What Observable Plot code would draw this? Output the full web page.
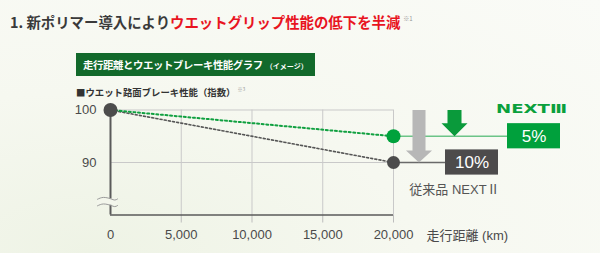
<!DOCTYPE html>
<html>
<head>
<meta charset="utf-8">
<script src="https://cdn.jsdelivr.net/npm/d3@7"></script>
<script src="https://cdn.jsdelivr.net/npm/@observablehq/plot@0.6"></script>
<style>
  html, body { margin: 0; padding: 0; }
  body { width: 600px; height: 253px; overflow: hidden;
    background: radial-gradient(ellipse at 15% 100%, #eef3e5 0%, #f6f8f0 45%, #fafbf7 100%); }
  #wrap { position: relative; width: 600px; height: 253px; font-family: "Noto Sans CJK JP", sans-serif; }
  #title { position: absolute; left: 10px; top: 9px; font-size: 14.4px; font-weight: bold; color: #3a3a3a; line-height: 20px; white-space: nowrap; }
  #title .red { color: #e8141f; }
  #title sup { font-size: 6px; color: #999; font-weight: normal; vertical-align: 7px; margin-left: 3px; }
  #banner { position: absolute; left: 76px; top: 53px; width: 239px; height: 23px; background: #12692b; color: #fff; font-weight: bold; font-size: 10.4px; line-height: 23px; padding-left: 7px; box-sizing: border-box; white-space: nowrap; letter-spacing: -0.4px; }
  #banner small { font-size: 7px; letter-spacing: 0; margin-left: 3px; }
  #sub { position: absolute; left: 76px; top: 81px; font-size: 9.4px; font-weight: bold; color: #333; line-height: 16px; white-space: nowrap; }
  #sub sup { font-size: 5px; color: #999; font-weight: normal; vertical-align: 5px; margin-left: 2px; }
  #chart { position: absolute; left: 0; top: 0; }
</style>
</head>
<body>
<div id="wrap">
  <div id="chart"></div>
  <div id="title">1. 新ポリマー導入により<span class="red">ウエットグリップ性能の低下を半減</span><sup>※1</sup></div>
  <div id="banner">走行距離とウエットブレーキ性能グラフ<small>（イメージ）</small></div>
  <div id="sub">■ウエット路面ブレーキ性能（指数）<sup>※3</sup></div>
</div>
<script>
// ---- data ----
const distance = [0, 20000];           // km
const next3 = [100, 95];               // NEXT III index
const next2 = [100, 90];               // 従来品 NEXT II index
const xTicks = [0, 5000, 10000, 15000, 20000];
const yTicks = [90, 100];
const reductionLabels = ["5%", "10%"];
const seriesNames = ["NEXTⅢ", "従来品 NEXTⅡ"];
const xLabel = "走行距離 (km)";

const rows3 = distance.map((d, i) => ({x: d, y: next3[i]}));
const rows2 = distance.map((d, i) => ({x: d, y: next2[i]}));
const end3 = rows3[rows3.length - 1];
const end2 = rows2[rows2.length - 1];

// annotation layout (data units)
const boxHalf = 2.4;
const box3 = {x1: 28057, x2: 31802, y: end3.y};
const box2 = {x1: 23675, x2: 27420, y: end2.y};

function arrow(cx, top, tip, shaftHalf, headHalf, headLen) {
  const base = tip + headLen;
  return [
    {x: cx - shaftHalf, y: top}, {x: cx + shaftHalf, y: top},
    {x: cx + shaftHalf, y: base}, {x: cx + headHalf, y: base},
    {x: cx, y: tip}, {x: cx - headHalf, y: base},
    {x: cx - shaftHalf, y: base}, {x: cx - shaftHalf, y: top}
  ];
}
const arrowGray = arrow(21802, 100, end2.y, 460, 920, 2.3);
const arrowGreen = arrow(24311, 100, end3.y, 495, 920, 2.5);

const bg = "#f3f6ec";
const wave1 = [{x:-919,y:83.0},{x:-500,y:83.35},{x:0,y:83.1},{x:300,y:82.85},{x:495,y:83.05}];
const wave2 = [{x:-919,y:81.75},{x:-500,y:82.1},{x:0,y:81.85},{x:300,y:81.6},{x:495,y:81.8}];

const font = "'Liberation Sans', 'Noto Sans CJK JP', sans-serif";

const svg = Plot.plot({
  width: 600,
  height: 253,
  marginLeft: 110,
  marginRight: 207,
  marginTop: 109.5,
  marginBottom: 38.5,
  x: {domain: [0, 20000]},
  y: {domain: [80, 100]},
  style: {background: "transparent", fontFamily: font, overflow: "visible"},
  marks: [
    // grid
    Plot.ruleY(yTicks, {x1: 0, x2: 20000, stroke: "#c9c9c9", strokeWidth: 1}),
    Plot.ruleX(xTicks.slice(1), {y1: 80, y2: 100, stroke: "#c9c9c9", strokeWidth: 1}),
    // axes
    Plot.axisX({ticks: xTicks.slice(1), tickSize: 8, tickPadding: 7, tickFormat: d3.format(","), fontSize: 13, fill: "#4a4a4a", stroke: "#bdbdbd", label: null}),
    Plot.axisX({ticks: [0], tickSize: 0, tickPadding: 15, tickFormat: d3.format(","), fontSize: 13, fill: "#4a4a4a", label: null}),
    Plot.ruleY([80], {x1: 0, x2: 20000, stroke: "#5a5a5a", strokeWidth: 1.6}),
    Plot.ruleX([0], {y1: 80, y2: 100, stroke: "#5a5a5a", strokeWidth: 2}),
    Plot.axisY({ticks: yTicks, tickSize: 0, tickPadding: 14, fontSize: 13, fill: "#4a4a4a", label: null}),
    // axis break
    Plot.rect([0], {x1: -919, x2: 495, y1: 81.85, y2: 83.05, fill: bg}),
    Plot.line(wave1, {x: "x", y: "y", curve: "natural", stroke: "#9a9a9a", strokeWidth: 1}),
    Plot.line(wave2, {x: "x", y: "y", curve: "natural", stroke: "#9a9a9a", strokeWidth: 1}),
    // continuation lines
    Plot.ruleY([end3.y], {x1: end3.x, x2: box3.x1, stroke: "#6cc487", strokeWidth: 1.6}),
    Plot.ruleY([end2.y], {x1: end2.x, x2: box2.x1, stroke: "#6a6a6a", strokeWidth: 1.4}),
    // arrows
    Plot.line(arrowGray, {x: "x", y: "y", fill: "#b7b7b7", stroke: "none"}),
    Plot.line(arrowGreen, {x: "x", y: "y", fill: "#0a9a3b", stroke: "none"}),
    // dotted series
    Plot.line(rows2, {x: "x", y: "y", stroke: "#555", strokeWidth: 1.6, strokeDasharray: "2,2.2"}),
    Plot.line(rows3, {x: "x", y: "y", stroke: "#10a040", strokeWidth: 2, strokeDasharray: "2,2.6"}),
    // dots
    Plot.dot([rows2[0]], {x: "x", y: "y", r: 7, fill: "#4c4c4c"}),
    Plot.dot([end2], {x: "x", y: "y", r: 6.5, fill: "#4c4c4c"}),
    Plot.dot([end3], {x: "x", y: "y", r: 7, fill: "#00a23c"}),
    // label boxes
    Plot.rect([box3], {x1: "x1", x2: "x2", y1: d => d.y - boxHalf, y2: d => d.y + boxHalf, fill: "#00a03c"}),
    Plot.rect([box2], {x1: "x1", x2: "x2", y1: d => d.y - boxHalf, y2: d => d.y + boxHalf, fill: "#4d4b4c"}),
    Plot.text([box3], {x: d => (d.x1 + d.x2) / 2, y: "y", text: () => reductionLabels[0], fill: "#fff", fontSize: 17}),
    Plot.text([box2], {x: d => (d.x1 + d.x2) / 2, y: "y", text: () => reductionLabels[1], fill: "#fff", fontSize: 17}),
    // series names
    Plot.text([seriesNames[0]], {x: 29753, y: 100, dy: -1, text: d => d, fill: "#0aa03c", fontSize: 11.5, fontWeight: "bold", fontFamily: "'DejaVu Sans', sans-serif"}),
    Plot.text([seriesNames[1]], {x: 24311, y: 80, dy: -25, text: d => d, fill: "#555", fontSize: 13}),
    // x label
    Plot.text([xLabel], {x: 22330, y: 80, dy: 20.5, text: d => d, textAnchor: "start", fill: "#4a4a4a", fontSize: 13})
  ]
});

d3.select(svg).selectAll("text").filter(function() { return this.textContent === seriesNames[0]; })
  .attr("textLength", 71).attr("lengthAdjust", "spacingAndGlyphs");

document.getElementById("chart").appendChild(svg);
</script>
</body>
</html>
